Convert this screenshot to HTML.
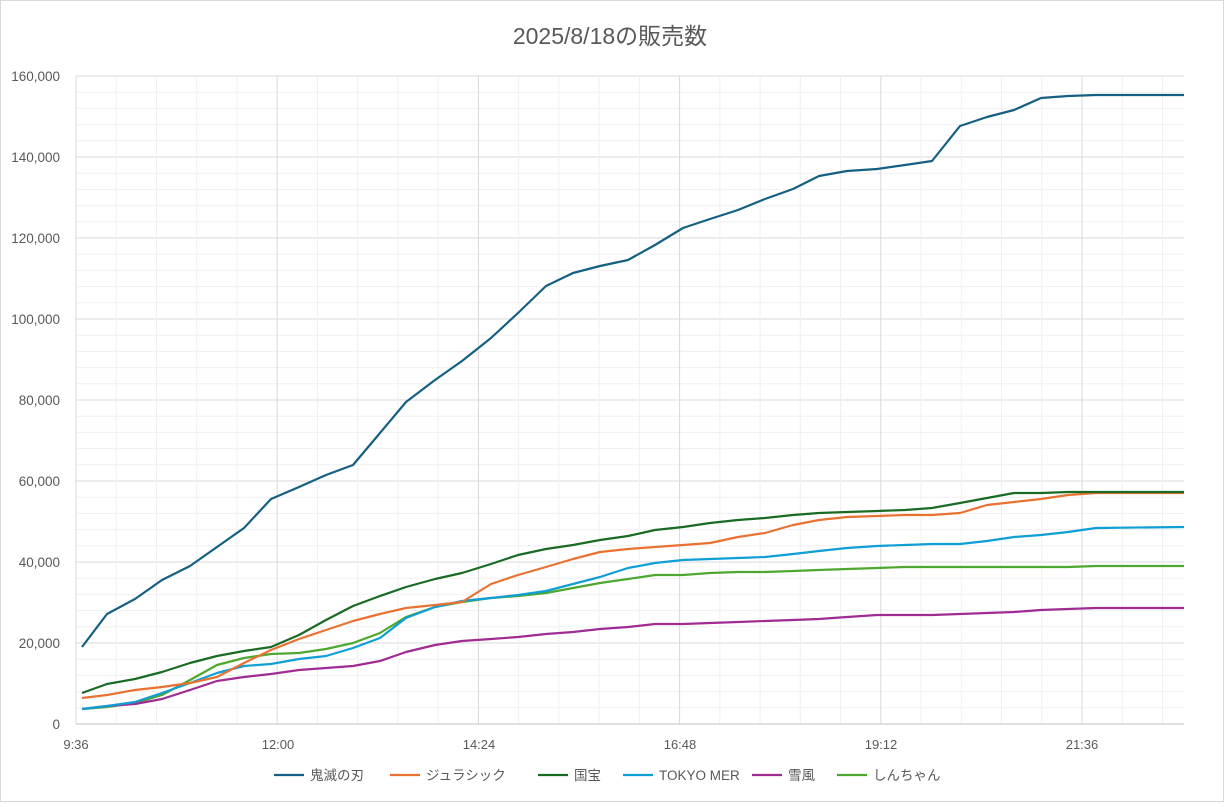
<!DOCTYPE html>
<html><head><meta charset="utf-8"><style>
body{margin:0;background:#fff}
svg text{font-family:"Liberation Sans","Noto Sans CJK JP",sans-serif}
</style></head><body>
<svg width="1224" height="802" xmlns="http://www.w3.org/2000/svg">
<rect x="0.5" y="0.5" width="1223" height="801" fill="#fff" stroke="#d9d9d9"/>
<text x="610" y="44" font-size="23" fill="#595959" text-anchor="middle">2025/8/18の販売数</text>
<g id="grid"></g>
<g id="lines" fill="none" stroke-width="2.2" stroke-linejoin="round"></g>
<g font-size="13.5" fill="#595959" text-anchor="end">
<text x="60" y="729">0</text><text x="60" y="648">20,000</text><text x="60" y="567">40,000</text><text x="60" y="486">60,000</text><text x="60" y="405">80,000</text><text x="60" y="324">100,000</text><text x="60" y="243">120,000</text><text x="60" y="162">140,000</text><text x="60" y="81">160,000</text>
</g>
<g font-size="13" fill="#595959" text-anchor="middle">
<text x="76" y="749">9:36</text><text x="278" y="749">12:00</text><text x="479" y="749">14:24</text><text x="680" y="749">16:48</text><text x="881" y="749">19:12</text><text x="1082" y="749">21:36</text>
</g>
<g font-size="13.5" fill="#595959">
<line x1="274" y1="775" x2="304" y2="775" stroke="#156082" stroke-width="2.2"/><text x="310" y="780">鬼滅の刃</text>
<line x1="390" y1="775" x2="420" y2="775" stroke="#e97132" stroke-width="2.2"/><text x="426" y="780">ジュラシック</text>
<line x1="538" y1="775" x2="568" y2="775" stroke="#196b24" stroke-width="2.2"/><text x="574" y="780">国宝</text>
<line x1="623" y1="775" x2="653" y2="775" stroke="#0f9ed5" stroke-width="2.2"/><text x="659" y="780">TOKYO MER</text>
<line x1="752" y1="775" x2="782" y2="775" stroke="#a02b93" stroke-width="2.2"/><text x="788" y="780">雪風</text>
<line x1="837" y1="775" x2="867" y2="775" stroke="#4ea72e" stroke-width="2.2"/><text x="873" y="780">しんちゃん</text>
</g>
<script>
const ns="http://www.w3.org/2000/svg";
const g=document.getElementById('grid');
function L(x1,y1,x2,y2,c,w){const l=document.createElementNS(ns,'line');l.setAttribute('x1',x1);l.setAttribute('y1',y1);l.setAttribute('x2',x2);l.setAttribute('y2',y2);l.setAttribute('stroke',c);l.setAttribute('stroke-width',w);g.appendChild(l);}
for(let i=0;i<=40;i++){const y=724-i*16.2;L(76,y,1184,y,i%5==0?'#d9d9d9':'#f0f0f0',1);}
for(let i=0;i<=27;i++){const x=76+i*40.24;if(x>1185)break;L(x,76,x,724,i%5==0?'#d9d9d9':'#f0f0f0',1);}
L(76,76,76,724,'#d9d9d9',1);L(76,724,1184,724,'#bfbfbf',1);
const xs=[82,107,135,162,190,217,244,271,299,326,353,380,406,435,462,491,518,546,573,600,628,655,683,710,738,765,793,819,847,877,905,932,960,987,1014,1041,1068,1096,1184];
const S=[
['#4ea72e',[709,707,703,695,680,665,658,654,653,649,643,633,617,607,602,598,596,593,588,583,579,575,575,573,572,572,571,570,569,568,567,567,567,567,567,567,567,566,566]],
['#a02b93',[709,706,704,699,690,681,677,674,670,668,666,661,652,645,641,639,637,634,632,629,627,624,624,623,622,621,620,619,617,615,615,615,614,613,612,610,609,608,608]],
['#0f9ed5',[709,706,702,693,683,673,666,664,659,656,648,638,618,607,601,598,595,591,584,577,568,563,560,559,558,557,554,551,548,546,545,544,544,541,537,535,532,528,527]],
['#e97132',[698,695,690,687,683,677,663,650,639,630,621,614,608,605,602,584,575,567,559,552,549,547,545,543,537,533,525,520,517,516,515,515,513,505,502,499,495,493,493]],
['#196b24',[693,684,679,672,663,656,651,647,635,620,606,596,587,579,573,564,555,549,545,540,536,530,527,523,520,518,515,513,512,511,510,508,503,498,493,493,492,492,492]],
['#156082',[647,614,599,580,566,547,528,499,487,475,465,433,402,380,361,338,313,286,273,266,260,245,228,219,210,199,189,176,171,169,165,161,126,117,110,98,96,95,95]]
];
const lg=document.getElementById('lines');
S.forEach(([c,ys])=>{const p=document.createElementNS(ns,'polyline');p.setAttribute('points',xs.map((x,i)=>x+','+ys[i]).join(' '));p.setAttribute('stroke',c);lg.appendChild(p);});
</script>
</svg>
</body></html>
